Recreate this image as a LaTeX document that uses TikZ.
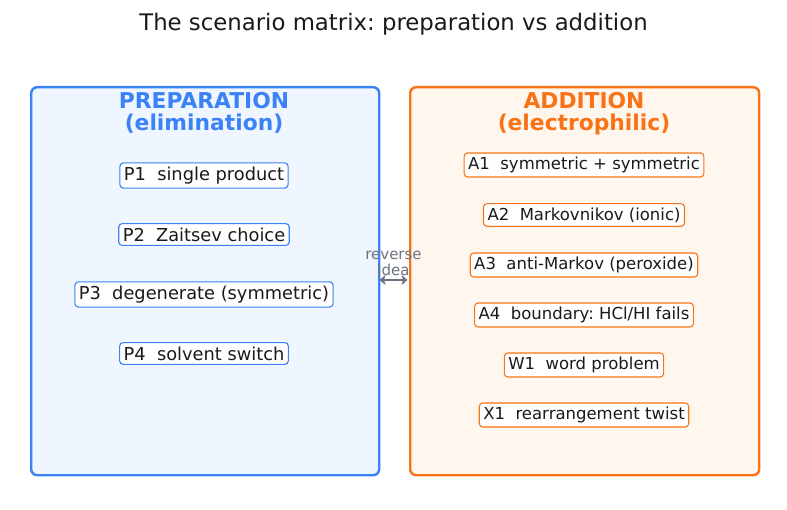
\documentclass[tikz,border=0pt]{standalone}
\usepackage{fontspec}
\setmainfont{DejaVu Sans}
\usetikzlibrary{arrows.meta}
\frenchspacing
\definecolor{pblue}{HTML}{3B82F6}
\definecolor{pbluefill}{HTML}{EFF6FF}
\definecolor{porange}{HTML}{F97316}
\definecolor{porangefill}{HTML}{FFF7ED}
\definecolor{pgray}{HTML}{6B7280}
\definecolor{ptext}{HTML}{1A1A1A}
\tikzset{
  panel/.style={rounded corners=6pt, line width=2.4pt},
  bluepanel/.style={panel, draw=pblue, fill=pbluefill},
  orangepanel/.style={panel, draw=porange, fill=porangefill},
  item/.style={rounded corners=3.5pt, line width=1.1pt, fill=white, text=ptext,
    inner xsep=4pt, inner ysep=4pt},
  blueitem/.style={item, draw=pblue, font=\fontsize{17.8}{20}\selectfont},
  orangeitem/.style={item, draw=porange, font=\fontsize{16.5}{19}\selectfont},
  head/.style={font=\bfseries\fontsize{21.8}{24}\selectfont, align=center},
  revlabel/.style={font=\fontsize{15}{15}\selectfont, text=pgray, inner sep=0pt},
}
\begin{document}
\begin{tikzpicture}[x=1pt,y=-1pt]
\useasboundingbox[fill=white] (0,0) rectangle (787,510);
\node[font=\fontsize{22.8}{26}\selectfont, text=ptext] (title) at (393.5,24) {The scenario matrix: preparation vs addition};
\node[bluepanel, minimum width=348pt, minimum height=388pt, anchor=north west] (left) at (30,86) {};
\node[orangepanel, minimum width=349pt, minimum height=388pt, anchor=north west] (right) at (409,86) {};
\node[head, text=pblue] (lh1) at (204,101) {PREPARATION};
\node[head, text=pblue] (lh2) at (204,124) {(elimination)};
\node[head, text=porange] (rh1) at (584,101) {ADDITION};
\node[head, text=porange] (rh2) at (584,124) {(electrophilic)};
\node[blueitem] (p1) at (204,175.5) {P1\ \ single product};
\node[blueitem] (p2) at (204,234.5) {P2\ \ Zaitsev choice};
\node[blueitem] (p3) at (204,294.5) {P3\ \ degenerate (symmetric)};
\node[blueitem] (p4) at (204,353.5) {P4\ \ solvent switch};
\node[orangeitem] (a1) at (584,165) {A1\ \ symmetric + symmetric};
\node[orangeitem] (a2) at (584,215) {A2\ \ Markovnikov (ionic)};
\node[orangeitem] (a3) at (584,265) {A3\ \ anti-Markov (peroxide)};
\node[orangeitem] (a4) at (584,315) {A4\ \ boundary: HCl/HI fails};
\node[orangeitem] (w1) at (584,365) {W1\ \ word problem};
\node[orangeitem] (x1) at (584,415) {X1\ \ rearrangement twist};
\node[revlabel] (rev1) at (393.5,255) {reverse};
\node[revlabel] (rev2) at (393.5,270) {idea};
\coordinate (la) at (379.5,280);
\coordinate (ra) at (407.5,280);
\draw[pgray, line width=2.6pt, {Stealth[length=6pt,width=10pt,inset=1.5pt]}-{Stealth[length=6pt,width=10pt,inset=1.5pt]}] (la) -- (ra);
\end{tikzpicture}
\end{document}
